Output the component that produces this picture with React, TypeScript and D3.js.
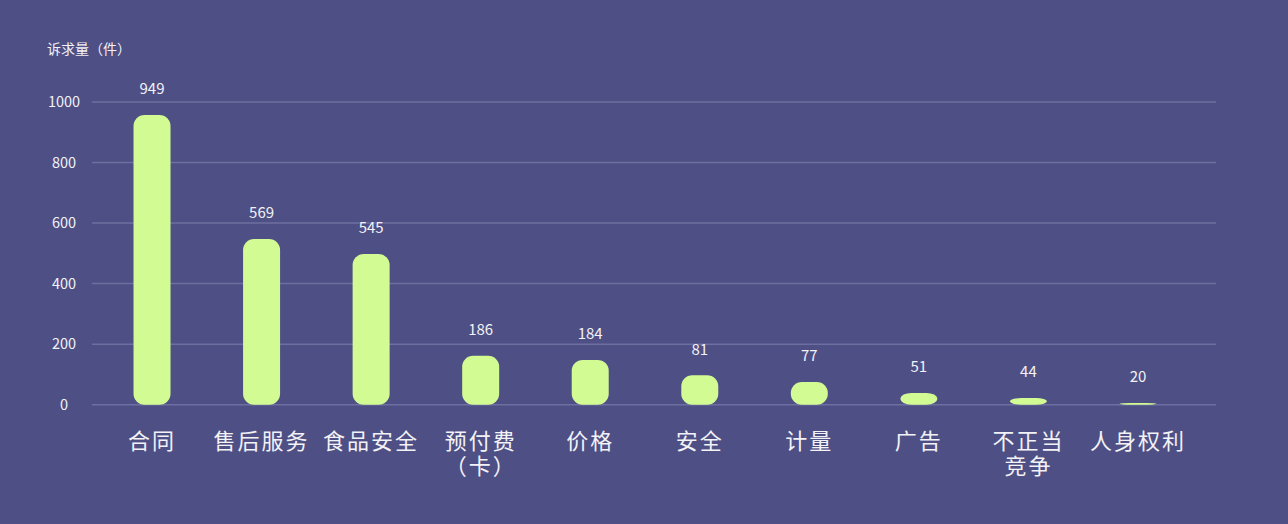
import React, { useEffect, useRef } from 'react';
import * as d3 from 'd3';

// categories (line breaks as in the picture)
const categories: string[][] = [
  ['合同'],
  ['售后服务'],
  ['食品安全'],
  ['预付费', '（卡）'],
  ['价格'],
  ['安全'],
  ['计量'],
  ['广告'],
  ['不正当', '竞争'],
  ['人身权利'],
];

// bar heights as drawn
const barValues: number[] = [957, 547, 498, 162, 148, 97, 75, 39, 22, 6];

// value labels printed above the bars
const labelValues: number[] = [949, 569, 545, 186, 184, 81, 77, 51, 44, 20];

const yTicks: number[] = [0, 200, 400, 600, 800, 1000];

const yTitle = '诉求量（件）';

const App: React.FC = () => {
  const svgRef = useRef<SVGSVGElement>(null);

  useEffect(() => {
    if (!svgRef.current) return;
    const svg = d3.select(svgRef.current);
    svg.selectAll('*').remove();

    const width = 1288;
    const height = 524;
    const font = '"Noto Sans CJK SC", "Noto Sans", sans-serif';
    const textColor = '#f2f2f7';

    svg.attr('width', width).attr('height', height);

    svg
      .append('rect')
      .attr('width', width)
      .attr('height', height)
      .attr('fill', '#4e4f84');

    const keys = categories.map((c) => c.join(''));

    const x = d3.scaleBand<string>().domain(keys).range([97.25, 1192.75]).padding(0);
    const y = d3.scaleLinear().domain([0, 1000]).range([404.7, 102]);

    // gridlines
    svg
      .append('g')
      .selectAll('line')
      .data(yTicks)
      .join('line')
      .attr('x1', 92)
      .attr('x2', 1216)
      .attr('y1', (d) => y(d))
      .attr('y2', (d) => y(d))
      .attr('stroke', '#6e6fa1')
      .attr('stroke-width', 1.5);

    // y tick labels
    svg
      .append('g')
      .selectAll('text')
      .data(yTicks)
      .join('text')
      .attr('x', 64)
      .attr('y', (d) => y(d))
      .attr('dy', '0.35em')
      .attr('text-anchor', 'middle')
      .attr('font-family', font)
      .attr('font-size', 14.5)
      .attr('fill', textColor)
      .text((d) => String(d));

    // axis title
    svg
      .append('text')
      .attr('x', 47)
      .attr('y', 49)
      .attr('dy', '0.35em')
      .attr('font-family', font)
      .attr('font-size', 14)
      .attr('fill', textColor)
      .text(yTitle);

    const barWidth = 37;

    // bars
    svg
      .append('g')
      .selectAll('rect')
      .data(barValues)
      .join('rect')
      .attr('x', (_, i) => (x(keys[i]) as number) + x.bandwidth() / 2 - barWidth / 2)
      .attr('y', (d) => y(d))
      .attr('width', barWidth)
      .attr('height', (d) => y(0) - y(d))
      .attr('rx', 11)
      .attr('ry', 11)
      .attr('fill', '#d3fb93');

    // value labels
    svg
      .append('g')
      .selectAll('text')
      .data(labelValues)
      .join('text')
      .attr('x', (_, i) => (x(keys[i]) as number) + x.bandwidth() / 2)
      .attr('y', (_, i) => y(barValues[i]) - 26)
      .attr('dy', '0.35em')
      .attr('text-anchor', 'middle')
      .attr('font-family', font)
      .attr('font-size', 15)
      .attr('fill', textColor)
      .text((d) => String(d));

    // category labels
    const cat = svg
      .append('g')
      .selectAll('text')
      .data(categories)
      .join('text')
      .attr('x', (_, i) => (x(keys[i]) as number) + x.bandwidth() / 2)
      .attr('y', 441)
      .attr('text-anchor', 'middle')
      .attr('font-family', font)
      .attr('font-size', 22)
      .attr('letter-spacing', 2)
      .attr('fill', textColor);

    cat
      .selectAll('tspan')
      .data((d) => d)
      .join('tspan')
      .attr('x', function () {
        return (this.parentNode as SVGTextElement).getAttribute('x');
      })
      .attr('dy', (_, j) => (j === 0 ? '0.35em' : '1.15em'))
      .text((d) => d);
  }, []);

  return <svg ref={svgRef} style={{ position: 'fixed', left: 0, top: 0, display: 'block' }} />;
};

export default App;
